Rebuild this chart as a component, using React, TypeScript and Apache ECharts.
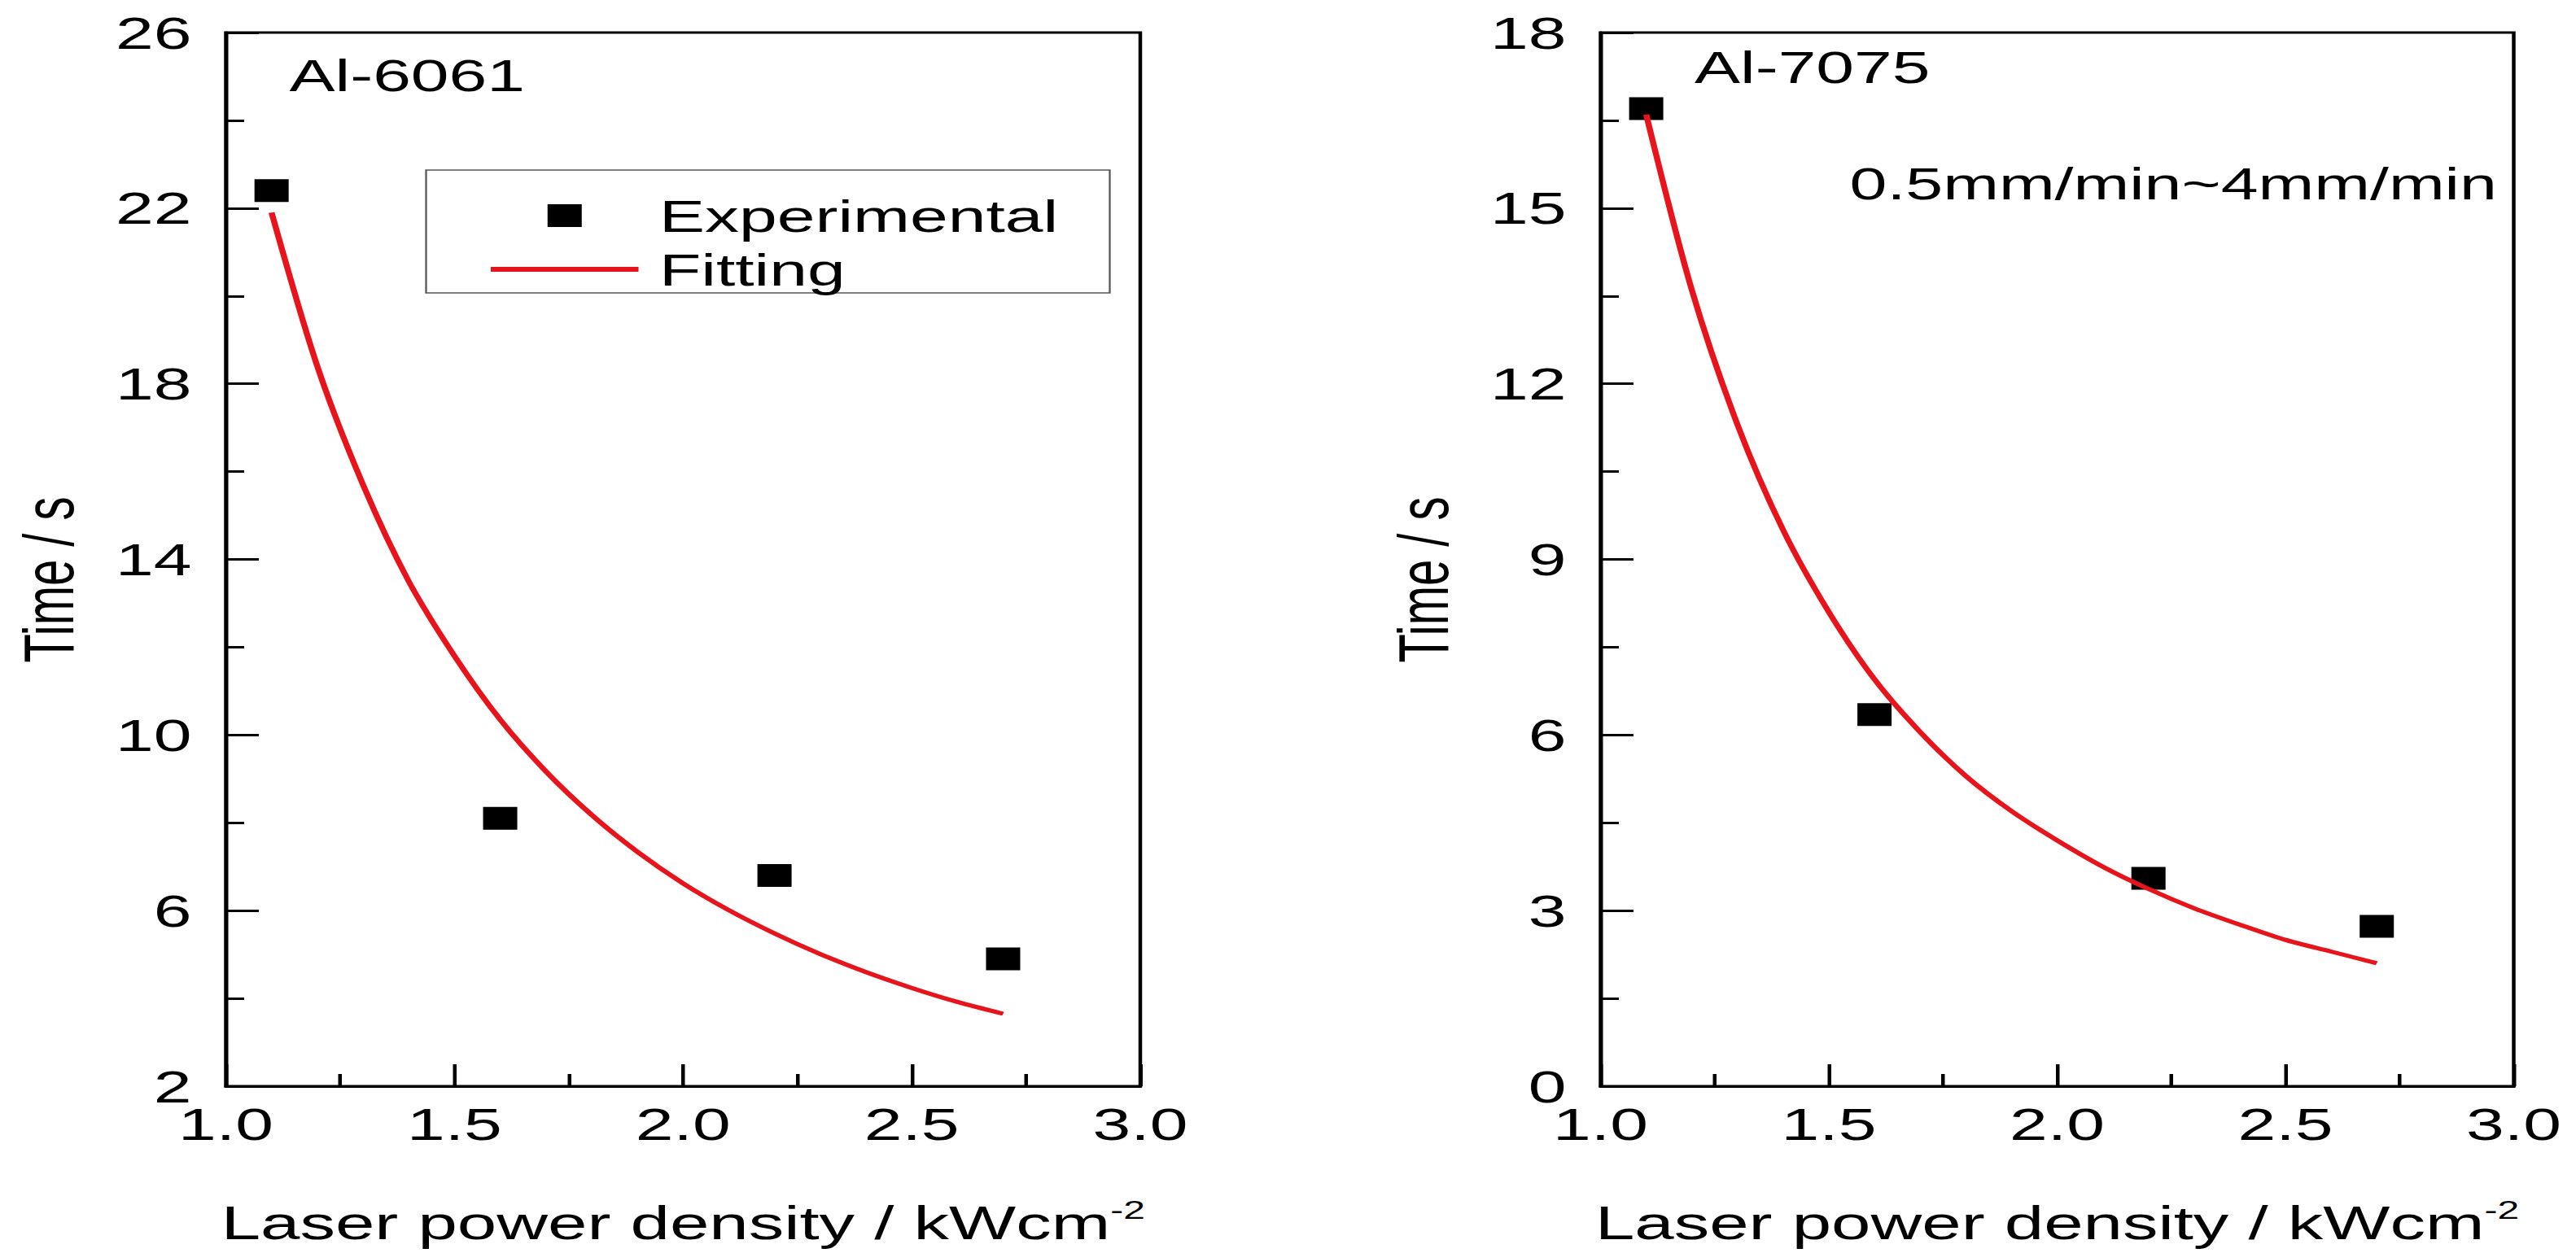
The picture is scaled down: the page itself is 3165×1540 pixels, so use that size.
import { useEffect, useRef } from "react";
import * as echarts from "echarts";

// the original figure is stretched horizontally; draw it narrow, then scaleX
const STRETCH = 1.5;
const W = 2110;
const H = 1540;
const FONT = "'Liberation Sans', Arial, sans-serif";
const RED = "#e8141b";

// Al-6061
const expX6061 = [1.1, 1.6, 2.2, 2.7];
const expY6061 = [22.4, 8.1, 6.8, 4.9];
const fitX6061 = [1.1, 1.2, 1.3, 1.4, 1.5, 1.6, 1.7, 1.8, 1.9, 2.0, 2.1, 2.2, 2.3, 2.4, 2.5, 2.6, 2.7];
const fitY6061 = [21.9, 18.4, 15.7, 13.5, 11.8, 10.35, 9.17, 8.18, 7.34, 6.62, 6.01, 5.48, 5.01, 4.6, 4.24, 3.92, 3.65];

// Al-7075
const expX7075 = [1.1, 1.6, 2.2, 2.7];
const expY7075 = [16.7, 6.35, 3.55, 2.73];
const fitX7075 = [1.1, 1.2, 1.3, 1.4, 1.5, 1.6, 1.7, 1.8, 1.9, 2.0, 2.1, 2.2, 2.3, 2.4, 2.5, 2.6, 2.7];
const fitY7075 = [16.6, 13.6, 11.3, 9.5, 8.1, 6.95, 6.05, 5.3, 4.7, 4.2, 3.75, 3.37, 3.04, 2.76, 2.5, 2.3, 2.1];

const xTitle = "Laser power density / kWcm{sup|-2}";
const yTitle = "Time / s";

const pairs = (xs: number[], ys: number[]) => xs.map((x, i) => [x, ys[i]]);

function xAxis(gridIndex: number) {
  return {
    type: "value",
    gridIndex,
    min: 1,
    max: 3,
    interval: 0.5,
    name: xTitle,
    nameLocation: "middle",
    nameGap: 136,
    nameTextStyle: {
      fontFamily: FONT,
      fontSize: 58,
      color: "#000",
      lineHeight: 64,
      rich: { sup: { fontFamily: FONT, fontSize: 32, lineHeight: 32, verticalAlign: "top", color: "#000" } },
    },
    axisLine: { onZero: false, lineStyle: { color: "#000", width: 3 } },
    axisTick: { inside: true, length: 27, lineStyle: { color: "#000", width: 3 } },
    minorTick: { show: true, splitNumber: 2, length: 15, lineStyle: { color: "#000", width: 3 } },
    splitLine: { show: false },
    axisLabel: {
      fontFamily: FONT,
      fontSize: 56,
      color: "#000",
      margin: 18,
      formatter: (v: number) => v.toFixed(1),
    },
  };
}

function yAxis(gridIndex: number, min: number, max: number, interval: number) {
  return {
    type: "value",
    gridIndex,
    min,
    max,
    interval,
    name: yTitle,
    nameLocation: "middle",
    nameRotate: 90,
    nameGap: 116,
    nameTextStyle: { fontFamily: FONT, fontSize: 58, color: "#000", padding: [0, 50, 0, 0] },
    axisLine: { onZero: false, lineStyle: { color: "#000", width: 3 } },
    axisTick: { inside: true, length: 27, lineStyle: { color: "#000", width: 3 } },
    minorTick: { show: true, splitNumber: 2, length: 15, lineStyle: { color: "#000", width: 3 } },
    splitLine: { show: false },
    axisLabel: { fontFamily: FONT, fontSize: 56, color: "#000", margin: 28 },
  };
}

export default function App() {
  const ref = useRef<HTMLDivElement | null>(null);

  useEffect(() => {
    if (!ref.current) return;
    const chart = echarts.init(ref.current, null, { renderer: "svg" });

    const scatter = (i: number, xs: number[], ys: number[]) => ({
      name: "Experimental",
      type: "scatter",
      xAxisIndex: i,
      yAxisIndex: i,
      symbol: "rect",
      symbolSize: 28,
      itemStyle: { color: "#000", opacity: 1 },
      data: pairs(xs, ys),
    });
    const fit = (i: number, xs: number[], ys: number[]) => ({
      name: "Fitting",
      type: "line",
      xAxisIndex: i,
      yAxisIndex: i,
      smooth: 0.3,
      symbol: "none",
      lineStyle: { color: RED, width: 5 },
      itemStyle: { color: RED },
      data: pairs(xs, ys),
    });

    chart.setOption({
      animation: false,
      backgroundColor: "#fff",
      grid: [
        { left: 185, top: 40, width: 749, height: 1296, show: true, borderColor: "#000", borderWidth: 3 },
        { left: 1311, top: 40, width: 748, height: 1296, show: true, borderColor: "#000", borderWidth: 3 },
      ],
      xAxis: [xAxis(0), xAxis(1)],
      yAxis: [yAxis(0, 2, 26, 4), yAxis(1, 0, 18, 3)],
      legend: {
        orient: "vertical",
        left: 402,
        top: 237,
        padding: 0,
        itemWidth: 121,
        itemHeight: 28,
        itemGap: 10,
        symbolKeepAspect: true,
        selectedMode: false,
        textStyle: { fontFamily: FONT, fontSize: 56, color: "#000", padding: [0, 0, 0, 12] },
        data: [
          { name: "Experimental", icon: "path://M0,0H10V10H0Z", itemStyle: { color: "#000", opacity: 1 } },
          { name: "Fitting", icon: "path://M0,0H120V6H0Z", itemStyle: { color: RED } },
        ],
      },
      graphic: [
        {
          type: "rect",
          shape: { x: 349, y: 209, width: 560, height: 151 },
          style: { fill: "none", stroke: "#555", lineWidth: 1.5 },
          z: 1,
        },
        {
          type: "text",
          x: 237,
          y: 92,
          style: { text: "Al-6061", fontFamily: FONT, fontSize: 56, fill: "#000", verticalAlign: "middle" },
        },
        {
          type: "text",
          x: 1388,
          y: 82,
          style: { text: "Al-7075", fontFamily: FONT, fontSize: 56, fill: "#000", verticalAlign: "middle" },
        },
        {
          type: "text",
          x: 1515,
          y: 226,
          style: { text: "0.5mm/min~4mm/min", fontFamily: FONT, fontSize: 55, fill: "#000", verticalAlign: "middle" },
        },
      ],
      series: [
        scatter(0, expX6061, expY6061),
        fit(0, fitX6061, fitY6061),
        scatter(1, expX7075, expY7075),
        fit(1, fitX7075, fitY7075),
      ],
    });

    return () => chart.dispose();
  }, []);

  return (
    <div style={{ position: "fixed", left: 0, top: 0, width: W * STRETCH, height: H, overflow: "hidden", background: "#fff" }}>
      <div
        ref={ref}
        style={{ width: W, height: H, transform: `scaleX(${STRETCH})`, transformOrigin: "0 0" }}
      />
    </div>
  );
}
